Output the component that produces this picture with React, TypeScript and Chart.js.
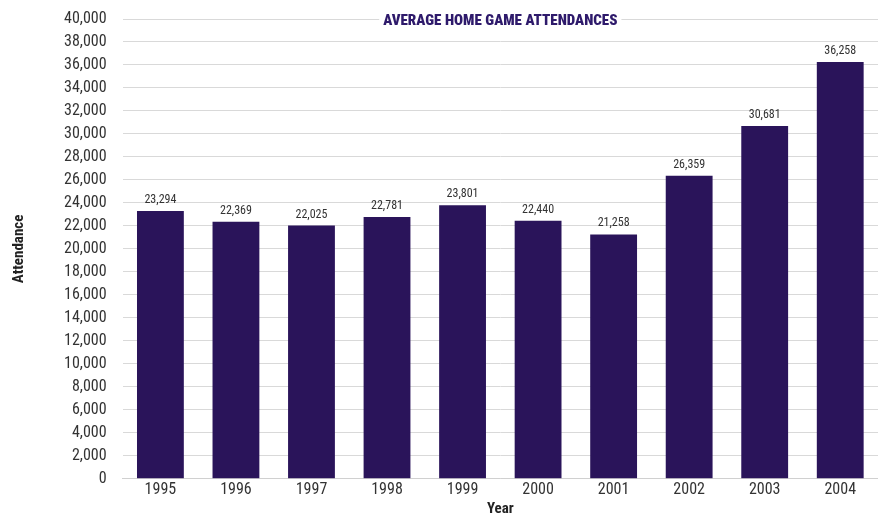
import React, { useEffect, useRef } from "react";
import { Chart, registerables } from "chart.js";

Chart.register(...registerables);

const categories = ["1995", "1996", "1997", "1998", "1999", "2000", "2001", "2002", "2003", "2004"];
const attendance = [23294, 22369, 22025, 22781, 23801, 22440, 21258, 26359, 30681, 36258];
const titleText = "AVERAGE HOME GAME ATTENDANCES";

const FONT = "'Liberation Sans Narrow', 'Roboto Condensed', 'DejaVu Sans Condensed', sans-serif";

const overlayPlugin = {
  id: "overlay",
  afterDatasetsDraw(chart: any) {
    const ctx = chart.ctx;
    const meta = chart.getDatasetMeta(0);
    ctx.save();
    ctx.font = `12px ${FONT}`;
    ctx.fillStyle = "#333333";
    ctx.textAlign = "center";
    ctx.textBaseline = "bottom";
    meta.data.forEach((bar: any, i: number) => {
      ctx.fillText(attendance[i].toLocaleString("en-US"), bar.x, bar.y - 5);
    });
    // title
    const ca = chart.chartArea;
    const cx = (ca.left + ca.right) / 2;
    ctx.font = `900 15px ${FONT}`;
    const w = ctx.measureText(titleText).width;
    ctx.fillStyle = "#ffffff";
    ctx.fillRect(cx - w / 2 - 4, ca.top - 4, w + 8, 14);
    ctx.fillStyle = "#2e1a6b";
    ctx.textBaseline = "middle";
    ctx.fillText(titleText, cx, ca.top + 2);
    ctx.restore();
  },
};

export default function App() {
  const ref = useRef<HTMLCanvasElement>(null);
  useEffect(() => {
    document.body.style.margin = "0";
    const chart = new Chart(ref.current!, {
      type: "bar",
      data: {
        labels: categories,
        datasets: [
          {
            data: attendance,
            backgroundColor: "#2a145a",
            categoryPercentage: 1,
            barPercentage: 0.62,
          },
        ],
      },
      options: {
        animation: false,
        responsive: false,
        layout: { padding: { top: 19, right: 0, left: 10, bottom: 0 } },
        plugins: { legend: { display: false }, tooltip: { enabled: false }, title: { display: false } },
        scales: {
          x: {
            grid: { display: false, drawTicks: false, tickLength: 0 },
            border: { color: "#d0d0d0" },
            ticks: { font: { family: FONT, size: 16 }, color: "#333333", padding: 2, autoSkip: false, maxRotation: 0 },
            title: {
              display: true,
              text: "Year",
              font: { family: FONT, size: 15, weight: "bold" },
              color: "#222222",
              padding: { top: -2, bottom: 0 },
            },
          },
          y: {
            min: 0,
            max: 40000,
            afterFit: (scale: any) => {
              scale.paddingTop = 0;
              scale.paddingBottom = 0;
            },
            ticks: {
              stepSize: 2000,
              autoSkip: false,
              font: { family: FONT, size: 16 },
              color: "#333333",
              padding: 16,
              callback: (v: any) => Number(v).toLocaleString("en-US"),
            },
            grid: { color: "#d9d9d9", drawTicks: false },
            border: { display: false },
            title: {
              display: true,
              text: "Attendance",
              font: { family: FONT, size: 15, weight: "bold" },
              color: "#222222",
              padding: { top: 0, bottom: 20 },
            },
          },
        },
      },
      plugins: [overlayPlugin],
    });
    return () => chart.destroy();
  }, []);
  return (
    <div style={{ width: 878, height: 518 }}>
      <canvas ref={ref} width={878} height={518} style={{ display: "block" }} />
    </div>
  );
}
